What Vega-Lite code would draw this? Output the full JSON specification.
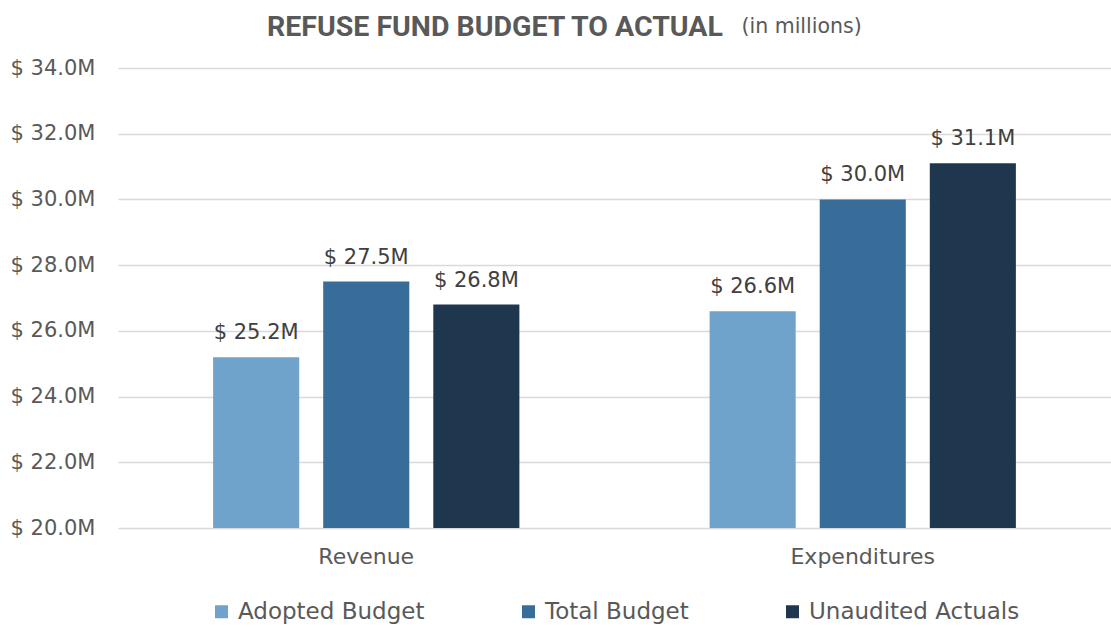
{
  "$schema": "https://vega.github.io/schema/vega-lite/v6.json",
  "width": 993,
  "height": 460,
  "autosize": {"type": "none"},
  "padding": {"left": 118, "top": 68, "right": 0, "bottom": 99},
  "background": "white",
  "title": {
    "text": "REFUSE FUND BUDGET TO ACTUAL",
    "anchor": "start",
    "frame": "group",
    "dx": 149,
    "font": "Roboto",
    "fontSize": 28.5,
    "fontWeight": "bold",
    "color": "#595959",
    "offset": -25
  },
  "data": {
    "values": [
      {"category": "Revenue", "series": "Adopted Budget", "value": 25.2},
      {"category": "Revenue", "series": "Total Budget", "value": 27.5},
      {"category": "Revenue", "series": "Unaudited Actuals", "value": 26.8},
      {"category": "Expenditures", "series": "Adopted Budget", "value": 26.6},
      {"category": "Expenditures", "series": "Total Budget", "value": 30.0},
      {"category": "Expenditures", "series": "Unaudited Actuals", "value": 31.1}
    ]
  },
  "encoding": {
    "x": {
      "field": "category",
      "type": "nominal",
      "sort": ["Revenue", "Expenditures"],
      "scale": {"paddingInner": 0, "paddingOuter": 0},
      "axis": {
        "title": null,
        "labelAngle": 0,
        "domain": false,
        "ticks": false,
        "labelPadding": 18,
        "labelFontSize": 22,
        "labelColor": "#595959"
      }
    },
    "xOffset": {
      "field": "series",
      "type": "nominal",
      "sort": ["Adopted Budget", "Total Budget", "Unaudited Actuals"],
      "scale": {"paddingInner": 0.218, "paddingOuter": 0.864}
    },
    "y": {
      "field": "value",
      "type": "quantitative",
      "scale": {"domain": [20, 34], "nice": false, "zero": false},
      "axis": {
        "title": "(in millions)",
        "titleAngle": 0,
        "titleAlign": "left",
        "titleBaseline": "alphabetic",
        "titleX": 623,
        "titleY": -36,
        "titleFontSize": 20.5,
        "titleFontWeight": "normal",
        "titleColor": "#595959",
        "values": [20, 22, 24, 26, 28, 30, 32, 34],
        "labelExpr": "'$ ' + format(datum.value, '.1f') + 'M'",
        "domain": false,
        "ticks": false,
        "labelPadding": 23,
        "labelFontSize": 21,
        "labelColor": "#595959",
        "gridColor": "#d9d9d9",
        "gridWidth": 1.5
      }
    }
  },
  "layer": [
    {
      "mark": {"type": "bar"},
      "encoding": {
        "y2": {"datum": 20},
        "color": {
          "field": "series",
          "type": "nominal",
          "sort": ["Adopted Budget", "Total Budget", "Unaudited Actuals"],
          "scale": {
            "domain": ["Adopted Budget", "Total Budget", "Unaudited Actuals"],
            "range": ["#6FA3CC", "#386D99", "#1F374E"]
          },
          "legend": {
            "title": null,
            "orient": "none",
            "legendX": 92,
            "legendY": 532,
            "padding": 0,
            "direction": "horizontal",
            "symbolType": "square",
            "symbolSize": 169,
            "symbolStrokeWidth": 0,
            "labelFontSize": 23,
            "labelLimit": 400,
            "labelColor": "#595959",
            "labelOffset": 5,
            "columnPadding": 92
          }
        }
      }
    },
    {
      "transform": [
        {"calculate": "'$ ' + format(datum.value, '.1f') + 'M'", "as": "label"}
      ],
      "mark": {
        "type": "text",
        "baseline": "alphabetic",
        "dy": -18,
        "fontSize": 21,
        "color": "#404040"
      },
      "encoding": {
        "text": {"field": "label"}
      }
    }
  ],
  "config": {
    "font": "DejaVu Sans",
    "view": {"stroke": null}
  }
}
